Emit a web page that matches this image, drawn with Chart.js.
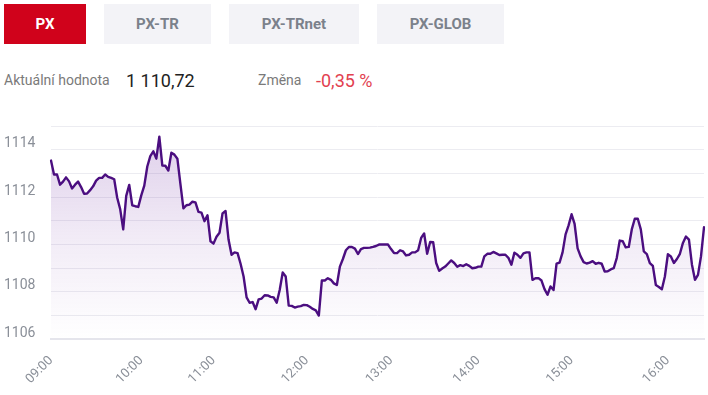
<!DOCTYPE html>
<html>
<head>
<meta charset="utf-8">
<script src="https://cdn.jsdelivr.net/npm/chart.js@4.4.1/dist/chart.umd.min.js"></script>
<style>
  html, body { margin: 0; padding: 0; background: #fff; }
  body { width: 708px; height: 395px; position: relative; overflow: hidden; font-family: Roboto, "Open Sans", sans-serif; }
  .tab { position: absolute; top: 4px; height: 40px; line-height: 40px; text-align: center; font-weight: 700; font-size: 15px; color: #7b818b; background: #f3f3f7; }
  .tab.active { background: #d0021b; color: #fff; }
  .lbl { position: absolute; top: 72px; font-size: 14px; color: #7a7a7a; }
  .val { position: absolute; top: 70px; font-size: 18px; color: #222; }
  #wrap { position: absolute; left: 0; top: 116px; width: 708px; height: 279px; }
</style>
</head>
<body>
<div class="tab active" style="left:4px;width:82px">PX</div>
<div class="tab" style="left:104px;width:107px">PX-TR</div>
<div class="tab" style="left:229px;width:130px">PX-TRnet</div>
<div class="tab" style="left:377px;width:127px">PX-GLOB</div>

<div class="lbl" style="left:4px">Aktuální hodnota</div>
<div class="val" style="left:126px">1 110,72</div>
<div class="lbl" style="left:258px">Změna</div>
<div class="val" style="left:316px;color:#e2414f">-0,35 %</div>

<div id="wrap"><canvas id="pxChart"></canvas></div>

<script>
const hourLabels = ["09:00", "10:00", "11:00", "12:00", "13:00", "14:00", "15:00", "16:00"];
const hourIndex = [0, 30, 54, 85, 113, 142, 173, 205];

const pxValues = [
  1113.54, 1112.95, 1112.95, 1112.52, 1112.65, 1112.83, 1112.66, 1112.36, 1112.52, 1112.65,
  1112.42, 1112.14, 1112.15, 1112.29, 1112.45, 1112.69, 1112.81, 1112.81, 1112.95, 1112.85,
  1112.81, 1112.75, 1111.97, 1111.48, 1110.63, 1112.05, 1112.51, 1111.65, 1111.61, 1111.58,
  1112.07, 1112.48, 1113.29, 1113.73, 1113.93, 1113.62, 1114.55, 1113.33, 1113.32, 1113.12,
  1113.87, 1113.79, 1113.62, 1112.55, 1111.52, 1111.65, 1111.68, 1111.80, 1111.77, 1111.37,
  1111.34, 1110.98, 1111.23, 1110.13, 1110.03, 1110.32, 1110.49, 1111.31, 1111.41, 1110.20,
  1109.56, 1109.66, 1109.63, 1109.18, 1108.64, 1107.76, 1107.53, 1107.56, 1107.26, 1107.67,
  1107.71, 1107.85, 1107.84, 1107.78, 1107.76, 1107.53, 1108.07, 1108.81, 1108.64, 1107.41,
  1107.40, 1107.33, 1107.37, 1107.39, 1107.44, 1107.43, 1107.36, 1107.27, 1107.21, 1106.99,
  1108.47, 1108.47, 1108.57, 1108.50, 1108.35, 1108.28, 1109.06, 1109.38, 1109.75, 1109.89,
  1109.89, 1109.82, 1109.59, 1109.80, 1109.85, 1109.85, 1109.86, 1109.89, 1109.93, 1109.99,
  1109.99, 1109.99, 1109.99, 1109.80, 1109.63, 1109.63, 1109.75, 1109.70, 1109.53, 1109.56,
  1109.66, 1109.66, 1109.75, 1110.27, 1110.46, 1109.60, 1110.10, 1110.09, 1109.21, 1108.88,
  1108.98, 1109.06, 1109.19, 1109.32, 1109.21, 1109.05, 1109.12, 1109.08, 1109.16, 1109.09,
  1108.99, 1109.01, 1109.06, 1109.06, 1109.49, 1109.60, 1109.60, 1109.68, 1109.62, 1109.55,
  1109.56, 1109.56, 1109.43, 1109.14, 1109.65, 1109.56, 1109.43, 1109.62, 1109.66, 1109.66,
  1108.50, 1108.57, 1108.57, 1108.47, 1108.11, 1107.87, 1108.22, 1108.07, 1109.18, 1109.23,
  1109.66, 1110.42, 1110.80, 1111.27, 1110.86, 1109.83, 1109.49, 1109.25, 1109.19, 1109.23,
  1109.29, 1109.18, 1109.22, 1109.18, 1108.85, 1108.86, 1108.94, 1108.99, 1109.42, 1110.16,
  1110.13, 1109.87, 1109.89, 1110.63, 1111.08, 1111.08, 1110.63, 1109.70, 1109.59, 1109.21,
  1109.09, 1108.28, 1108.20, 1108.10, 1108.64, 1109.58, 1109.49, 1109.21, 1109.38, 1109.60,
  1110.06, 1110.33, 1110.20, 1109.14, 1108.50, 1108.71, 1109.49, 1110.72
];

const yMin = 1106;
const yMax = 1115;

const labels = pxValues.map((v, i) => {
  const k = hourIndex.indexOf(i);
  return k >= 0 ? hourLabels[k] : "";
});

const ctx = document.getElementById("pxChart").getContext("2d");
new Chart(ctx, {
  type: "line",
  data: {
    labels,
    datasets: [{
      data: pxValues,
      borderColor: "#4b0e80",
      borderWidth: 2.4,
      borderJoinStyle: "round",
      borderCapStyle: "round",
      pointRadius: 0,
      tension: 0,
      fill: "start",
      backgroundColor: c => {
        const area = c.chart.chartArea;
        if (!area) return "rgba(120,60,170,0.15)";
        const g = c.chart.ctx.createLinearGradient(0, area.top, 0, area.bottom);
        g.addColorStop(0, "rgba(115,50,165,0.24)");
        g.addColorStop(0.55, "rgba(115,50,165,0.09)");
        g.addColorStop(1, "rgba(115,50,165,0)");
        return g;
      }
    }]
  },
  options: {
    responsive: true,
    maintainAspectRatio: false,
    animation: false,
    layout: { padding: { left: 4, right: 4, top: 10, bottom: 0 } },
    scales: {
      x: {
        offset: false,
        grid: { display: false },
        border: { display: true, color: "#e5e5ec", width: 2 },
        ticks: {
          autoSkip: false,
          maxRotation: 45,
          minRotation: 45,
          padding: 6,
          color: "#8a8f98",
          font: { family: "Roboto", size: 13 }
        },
        afterFit: s => {
          s.height = 56;
          s.paddingLeft = 0;
          s.paddingRight = 0;
        }
      },
      y: {
        min: yMin,
        max: yMax,
        border: { display: false },
        grid: { color: "#ececf1", drawTicks: false },
        ticks: {
          stepSize: 1,
          crossAlign: "far",
          labelOffset: -6,
          color: "#8a8f98",
          font: { family: "Roboto", size: 14 },
          callback: v => (v % 2 === 0 && v < yMax ? String(v) : "")
        },
        afterFit: s => {
          s.width = 47;
          s.paddingTop = 0;
          s.paddingBottom = 0;
        }
      }
    },
    plugins: {
      legend: { display: false },
      tooltip: { enabled: false }
    }
  }
});
</script>
</body>
</html>
